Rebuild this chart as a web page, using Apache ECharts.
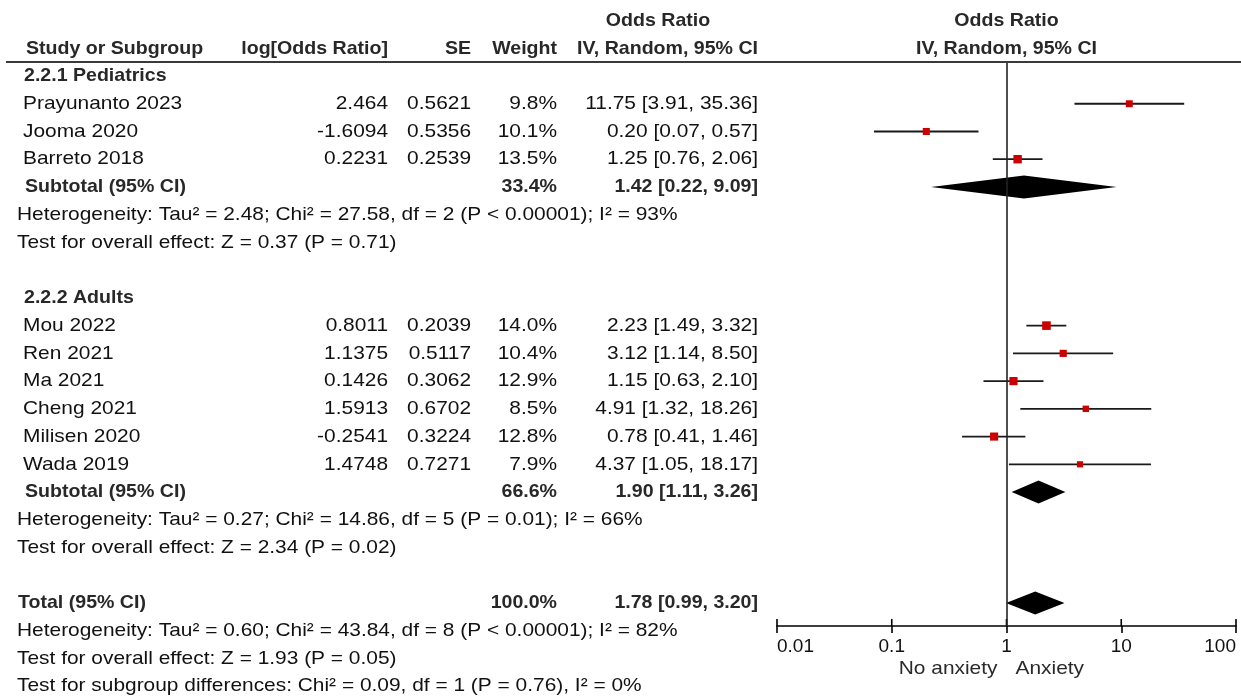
<!DOCTYPE html>
<html>
<head>
<meta charset="utf-8">
<title>Forest plot – anxiety, odds ratio</title>
<script src="https://cdn.jsdelivr.net/npm/echarts@6/dist/echarts.min.js"></script>
<style>
  html, body { margin: 0; padding: 0; background: #ffffff; }
  #chart { width: 1241px; height: 696px; }
</style>
</head>
<body>
<div id="chart"></div>
<script>
// ---- Subgroup 2.2.1 Pediatrics ----
const pedTitle = '2.2.1 Pediatrics';
const pedStudies = ['Prayunanto 2023', 'Jooma 2020', 'Barreto 2018'];
const pedLogOR = [2.464, -1.6094, 0.2231];
const pedSE = [0.5621, 0.5356, 0.2539];
const pedWeight = [9.8, 10.1, 13.5];
const pedOR = [11.75, 0.20, 1.25];
const pedLow = [3.91, 0.07, 0.76];
const pedHigh = [35.36, 0.57, 2.06];
const pedHeterogeneity = 'Heterogeneity: Tau² = 2.48; Chi² = 27.58, df = 2 (P < 0.00001); I² = 93%';
const pedOverall = 'Test for overall effect: Z = 0.37 (P = 0.71)';

// ---- Subgroup 2.2.2 Adults ----
const adTitle = '2.2.2 Adults';
const adStudies = ['Mou 2022', 'Ren 2021', 'Ma 2021', 'Cheng 2021', 'Milisen 2020', 'Wada 2019'];
const adLogOR = [0.8011, 1.1375, 0.1426, 1.5913, -0.2541, 1.4748];
const adSE = [0.2039, 0.5117, 0.3062, 0.6702, 0.3224, 0.7271];
const adWeight = [14.0, 10.4, 12.9, 8.5, 12.8, 7.9];
const adOR = [2.23, 3.12, 1.15, 4.91, 0.78, 4.37];
const adLow = [1.49, 1.14, 0.63, 1.32, 0.41, 1.05];
const adHigh = [3.32, 8.50, 2.10, 18.26, 1.46, 18.17];
const adHeterogeneity = 'Heterogeneity: Tau² = 0.27; Chi² = 14.86, df = 5 (P = 0.01); I² = 66%';
const adOverall = 'Test for overall effect: Z = 2.34 (P = 0.02)';

// ---- Subtotals (Pediatrics, Adults) ----
const subtotalWeight = [33.4, 66.6];
const subtotalOR = [1.42, 1.90];
const subtotalLow = [0.22, 1.11];
const subtotalHigh = [9.09, 3.26];

// ---- Overall pooled estimate ----
const totalWeight = 100.0;
const totalOR = 1.78;
const totalLow = 0.99;
const totalHigh = 3.20;
const totalHeterogeneity = 'Heterogeneity: Tau² = 0.60; Chi² = 43.84, df = 8 (P < 0.00001); I² = 82%';
const totalOverall = 'Test for overall effect: Z = 1.93 (P = 0.05)';
const subgroupDiff = 'Test for subgroup differences: Chi² = 0.09, df = 1 (P = 0.76), I² = 0%';

// ---- Axis ----
const axisTicks = [0.01, 0.1, 1, 10, 100];
const tickLabels = ['0.01', '0.1', '1', '10', '100'];
const favoursLeft = 'No anxiety';
const favoursRight = 'Anxiety';

// ---- Header text ----
const headMethod = 'Odds Ratio';
const headMethodSub = 'IV, Random, 95% CI';
const headStudy = 'Study or Subgroup';
const headLogOR = 'log[Odds Ratio]';
const headSE = 'SE';
const headWeight = 'Weight';

// ---------------------------------------------------------------
const FONT = '"Liberation Sans", Arial, sans-serif';
const FS = 19;
const COL = { heading: 25, name: 23, stats: 17, logOR: 388, se: 471, weight: 557, ci: 758, ciHeadCenter: 658 };
const Y_MIN = -0.505, Y_MAX = 19.83;
const TICK_LEN = 7;

const fmtCI = (o, l, h) => o.toFixed(2) + ' [' + l.toFixed(2) + ', ' + h.toFixed(2) + ']';
const fmtW = w => w.toFixed(1) + '%';

// Build the table rows in display order; r is the row index on the y axis
const rows = [];
const studyMarks = [];
const diamondMarks = [];
let r = 0;
function addGroup(title, names, lor, se, w, or, lo, hi, g, het, overall) {
  rows.push({ r: r++, kind: 'heading', text: title });
  names.forEach((n, i) => {
    rows.push({ r: r, kind: 'study', name: n, lor: String(lor[i]), se: String(se[i]), w: fmtW(w[i]), ci: fmtCI(or[i], lo[i], hi[i]) });
    studyMarks.push([r, or[i], lo[i], hi[i], w[i]]);
    r++;
  });
  rows.push({ r: r, kind: 'subtotal', name: 'Subtotal (95% CI)', w: fmtW(subtotalWeight[g]),
              ci: fmtCI(subtotalOR[g], subtotalLow[g], subtotalHigh[g]) });
  diamondMarks.push([r, subtotalOR[g], subtotalLow[g], subtotalHigh[g]]);
  r++;
  rows.push({ r: r++, kind: 'stat', text: het });
  rows.push({ r: r++, kind: 'stat', text: overall });
  r++; // blank spacer row
}
addGroup(pedTitle, pedStudies, pedLogOR, pedSE, pedWeight, pedOR, pedLow, pedHigh, 0, pedHeterogeneity, pedOverall);
addGroup(adTitle, adStudies, adLogOR, adSE, adWeight, adOR, adLow, adHigh, 1, adHeterogeneity, adOverall);
rows.push({ r: r, kind: 'subtotal', name: 'Total (95% CI)', w: fmtW(totalWeight), ci: fmtCI(totalOR, totalLow, totalHigh), total: true });
diamondMarks.push([r, totalOR, totalLow, totalHigh]);
r++;
rows.push({ r: r++, kind: 'stat', text: totalHeterogeneity });
rows.push({ r: r++, kind: 'stat', text: totalOverall });
rows.push({ r: r++, kind: 'stat', text: subgroupDiff });
rows.unshift({ r: -1, kind: 'header2' });
rows.unshift({ r: -2, kind: 'header1' });

function txt(x, y, s, bold, align, fill) {
  return {
    type: 'text', x: x, y: y, scaleX: bold ? 1.03 : 1.10,
    style: {
      text: s, fill: fill || (bold ? '#282828' : '#111111'),
      fontSize: FS, fontFamily: FONT, fontWeight: bold ? 'bold' : 'normal',
      align: align || 'left', verticalAlign: 'middle'
    }
  };
}

function renderRow(params, api) {
  const row = rows[params.dataIndex];
  const p = api.coord([1, row.r]);
  const y = p[1], xOne = p[0];
  const c = [];
  switch (row.kind) {
    case 'header1':
      c.push(txt(COL.ciHeadCenter, y, headMethod, true, 'center'));
      c.push(txt(xOne, y, headMethod, true, 'center'));
      break;
    case 'header2':
      c.push(txt(COL.heading + 1, y, headStudy, true));
      c.push(txt(COL.logOR, y, headLogOR, true, 'right'));
      c.push(txt(COL.se, y, headSE, true, 'right'));
      c.push(txt(COL.weight, y, headWeight, true, 'right'));
      c.push(txt(COL.ci, y, headMethodSub, true, 'right'));
      c.push(txt(xOne, y, headMethodSub, true, 'center'));
      break;
    case 'heading':
      c.push(txt(COL.heading - 1, y, row.text, true));
      break;
    case 'study':
      c.push(txt(COL.name, y, row.name, false));
      c.push(txt(COL.logOR, y, row.lor, false, 'right'));
      c.push(txt(COL.se, y, row.se, false, 'right'));
      c.push(txt(COL.weight, y, row.w, false, 'right'));
      c.push(txt(COL.ci, y, row.ci, false, 'right'));
      break;
    case 'subtotal':
      c.push(txt(row.total ? COL.stats + 1 : COL.heading, y, row.name, true));
      c.push(txt(COL.weight, y, row.w, true, 'right'));
      c.push(txt(COL.ci, y, row.ci, true, 'right'));
      break;
    case 'stat':
      c.push(txt(COL.stats, y, row.text, false));
      break;
  }
  return { type: 'group', children: c };
}

function renderStudy(params, api) {
  const rr = api.value(0), w = api.value(4);
  const pc = api.coord([api.value(1), rr]);
  const pl = api.coord([api.value(2), rr]);
  const ph = api.coord([api.value(3), rr]);
  const s = 3 + w * 0.4;
  return {
    type: 'group',
    children: [
      { type: 'line', shape: { x1: pl[0], y1: pl[1], x2: ph[0], y2: ph[1] },
        style: { stroke: '#1a1a1a', lineWidth: 1.8 } },
      { type: 'rect', shape: { x: pc[0] - s / 2, y: pc[1] - s / 2, width: s, height: s },
        style: { fill: '#cc0000' } }
    ]
  };
}

function renderDiamond(params, api) {
  const rr = api.value(0);
  const pc = api.coord([api.value(1), rr]);
  const pl = api.coord([api.value(2), rr]);
  const ph = api.coord([api.value(3), rr]);
  const h = 11.5;
  return {
    type: 'polygon',
    shape: { points: [[pl[0], pc[1]], [pc[0], pc[1] - h], [ph[0], pc[1]], [pc[0], pc[1] + h]] },
    style: { fill: '#000000' }
  };
}

// upper half of each axis tick (the axis draws the lower half)
function renderTickUp(params, api) {
  const p = api.coord([api.value(0), Y_MAX]);
  return {
    type: 'line', shape: { x1: p[0], y1: p[1], x2: p[0], y2: p[1] - TICK_LEN },
    style: { stroke: '#000', lineWidth: 1.6 }
  };
}

function renderFavours(params, api) {
  const p = api.coord([1, Y_MAX]);
  const y = p[1] + 43;
  return {
    type: 'group',
    children: [
      txt(p[0] - 9, y, favoursLeft, false, 'right', '#2a2a2a'),
      txt(p[0] + 9, y, favoursRight, false, 'left', '#2a2a2a')
    ]
  };
}

const labelOf = v => {
  let best = 0;
  axisTicks.forEach((t, i) => {
    if (Math.abs(Math.log10(t) - Math.log10(v)) < Math.abs(Math.log10(axisTicks[best]) - Math.log10(v))) best = i;
  });
  return tickLabels[best];
};

const chart = echarts.init(document.getElementById('chart'), null, { renderer: 'canvas' });
chart.setOption({
  animation: false,
  backgroundColor: '#ffffff',
  grid: { left: 777, right: 5, top: 62, bottom: 70, containLabel: false },
  xAxis: {
    type: 'log', logBase: 10, min: axisTicks[0], max: axisTicks[axisTicks.length - 1],
    splitNumber: axisTicks.length - 1, position: 'bottom',
    splitLine: { show: false }, minorTick: { show: false },
    axisLine: { show: true, onZero: false, lineStyle: { color: '#000', width: 1.6 } },
    axisTick: { show: true, inside: false, length: TICK_LEN, lineStyle: { color: '#000', width: 1.6 } },
    axisLabel: {
      show: true, formatter: labelOf, color: '#111', fontSize: FS, fontFamily: FONT,
      margin: 11, alignMinLabel: 'left', alignMaxLabel: 'right', showMinLabel: true, showMaxLabel: true
    }
  },
  yAxis: { type: 'value', inverse: true, min: Y_MIN, max: Y_MAX, show: false, axisLine: { onZero: false } },
  graphic: [
    { type: 'line', shape: { x1: 6, y1: 62, x2: 1241, y2: 62 }, style: { stroke: '#3a3a3a', lineWidth: 2 }, z: 10 }
  ],
  series: [
    {
      type: 'custom', name: 'table', clip: false,
      data: rows.map(row => [1, row.r]), encode: { x: 0, y: 1 },
      renderItem: renderRow, silent: true
    },
    {
      type: 'custom', name: 'studies', clip: false,
      data: studyMarks, encode: { x: [1, 2, 3], y: 0 },
      renderItem: renderStudy, silent: true, z: 3,
      markLine: {
        silent: true, symbol: 'none', label: { show: false },
        lineStyle: { color: '#222', width: 1.6, type: 'solid' },
        data: [{ xAxis: 1 }]
      }
    },
    {
      type: 'custom', name: 'pooled', clip: false,
      data: diamondMarks, encode: { x: [1, 2, 3], y: 0 },
      renderItem: renderDiamond, silent: true, z: 4
    },
    {
      type: 'custom', name: 'ticks', clip: false,
      data: axisTicks.map(t => [t]), encode: { x: 0 },
      renderItem: renderTickUp, silent: true
    },
    {
      type: 'custom', name: 'favours', clip: false,
      data: [[1, Y_MAX]], encode: { x: 0, y: 1 },
      renderItem: renderFavours, silent: true
    }
  ]
});
</script>
</body>
</html>
